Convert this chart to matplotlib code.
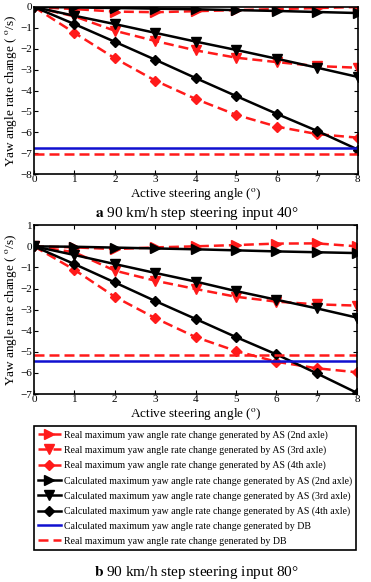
import numpy as np
import matplotlib
matplotlib.use('Agg')
import matplotlib.pyplot as plt

plt.rcParams['font.family'] = ['Liberation Serif', 'DejaVu Serif']
plt.rcParams['mathtext.fontset'] = 'stix'

angle = [0, 1, 2, 3, 4, 5, 6, 7, 8]

# (a) 90 km/h, 40 deg
a_real2 = [0, -0.1, -0.22, -0.25, -0.2, -0.15, -0.1, -0.05, 0.0]
a_calc2 = [0, -0.02, -0.05, -0.08, -0.11, -0.15, -0.19, -0.24, -0.29]
a_real3 = [0, -0.45, -1.14, -1.63, -2.08, -2.43, -2.64, -2.83, -2.91]
a_calc3 = [0, -0.42, -0.82, -1.24, -1.66, -2.06, -2.48, -2.91, -3.35]
a_real4 = [0, -1.24, -2.46, -3.53, -4.41, -5.17, -5.73, -6.09, -6.26]
a_calc4 = [0, -0.82, -1.67, -2.53, -3.41, -4.27, -5.12, -5.94, -6.83]
a_calc_db = -6.75
a_real_db = -7.05

# (b) 90 km/h, 80 deg
b_real2 = [0, -0.05, -0.13, -0.05, 0.0, 0.06, 0.13, 0.14, 0.0]
b_calc2 = [0, -0.02, -0.06, -0.1, -0.14, -0.19, -0.24, -0.28, -0.32]
b_real3 = [0, -0.28, -1.15, -1.63, -2.02, -2.39, -2.62, -2.75, -2.81]
b_calc3 = [0, -0.41, -0.84, -1.26, -1.67, -2.12, -2.53, -2.94, -3.38]
b_real4 = [0, -1.11, -2.39, -3.4, -4.3, -4.96, -5.47, -5.78, -5.97]
b_calc4 = [0, -0.84, -1.71, -2.59, -3.44, -4.3, -5.12, -6.02, -6.95]
b_calc_db = -5.45
b_real_db = -5.16

labels = ['Real maximum yaw angle rate change generated by AS (2nd axle)',
          'Real maximum yaw angle rate change generated by AS (3rd axle)',
          'Real maximum yaw angle rate change generated by AS (4th axle)',
          'Calculated maximum yaw angle rate change generated by AS (2nd axle)',
          'Calculated maximum yaw angle rate change generated by AS (3rd axle)',
          'Calculated maximum yaw angle rate change generated by AS (4th axle)',
          'Calculated maximum yaw angle rate change generated by DB',
          'Real maximum yaw angle rate change generated by DB']

fig = plt.figure(figsize=(3.71, 5.82), dpi=100)
ax1 = fig.add_axes([0.0916, 0.701, 0.873, 0.287])
ax2 = fig.add_axes([0.0916, 0.323, 0.871, 0.290])


def draw(ax, real2, calc2, real3, calc3, real4, calc4, calc_db, real_db, ylim):
	lw = 1.8
	red = '#ff1a1a'
	h = []
	h += ax.plot(angle, real2, '--', c=red, lw=lw, marker='>', ms=7, mec=red, dashes=(4, 2))
	h += ax.plot(angle, real3, '--', c=red, lw=lw, marker='v', ms=7, mec=red, dashes=(4, 2))
	h += ax.plot(angle, real4, '--', c=red, lw=lw, marker='D', ms=5, mec=red, dashes=(4, 2))
	h += ax.plot(angle, calc2, '-', c='black', lw=lw, marker='>', ms=7)
	h += ax.plot(angle, calc3, '-', c='black', lw=lw, marker='v', ms=7)
	h += ax.plot(angle, calc4, '-', c='black', lw=lw, marker='D', ms=5)
	h += ax.plot([angle[0], angle[-1]], [calc_db, calc_db], '-', c='#1010d0', lw=lw)
	h += ax.plot([angle[0], angle[-1]], [real_db, real_db], '--', c=red, lw=lw, dashes=(4, 2))
	ax.set_xlim(0, 8)
	ax.set_ylim(*ylim)
	ax.set_yticks(np.arange(ylim[0], ylim[1] + 1))
	ax.tick_params(direction='in', top=True, right=True, labelsize=8, length=3, pad=1)
	for s in ax.spines.values():
		s.set_linewidth(1.2)
	ax.set_xlabel(r'Active steering angle ($^{\mathrm{o}}$)', fontsize=9.5, labelpad=1)
	ax.set_ylabel(r'Yaw angle rate change ( $^{\mathrm{o}}$/s)', fontsize=9.5, labelpad=1)
	return h


draw(ax1, a_real2, a_calc2, a_real3, a_calc3, a_real4, a_calc4, a_calc_db, a_real_db, (-8, 0))
h = draw(ax2, b_real2, b_calc2, b_real3, b_calc3, b_real4, b_calc4, b_calc_db, b_real_db, (-7, 1))

fig.text(0.53, 0.634, r'$\mathbf{a}$ 90 km/h step steering input 40°', ha='center', va='center', fontsize=11)
fig.text(0.53, 0.017, r'$\mathbf{b}$ 90 km/h step steering input 80°', ha='center', va='center', fontsize=11)

leg = fig.legend(h, labels, loc='upper left', bbox_to_anchor=(0.0916, 0.268), fontsize=7.1,
	fancybox=False, edgecolor='black', framealpha=1, handlelength=2.3, labelspacing=0.58,
	borderpad=0.4, handletextpad=0.3, borderaxespad=0)
leg.get_frame().set_linewidth(1.2)

fig.savefig('out.png', dpi=100)
